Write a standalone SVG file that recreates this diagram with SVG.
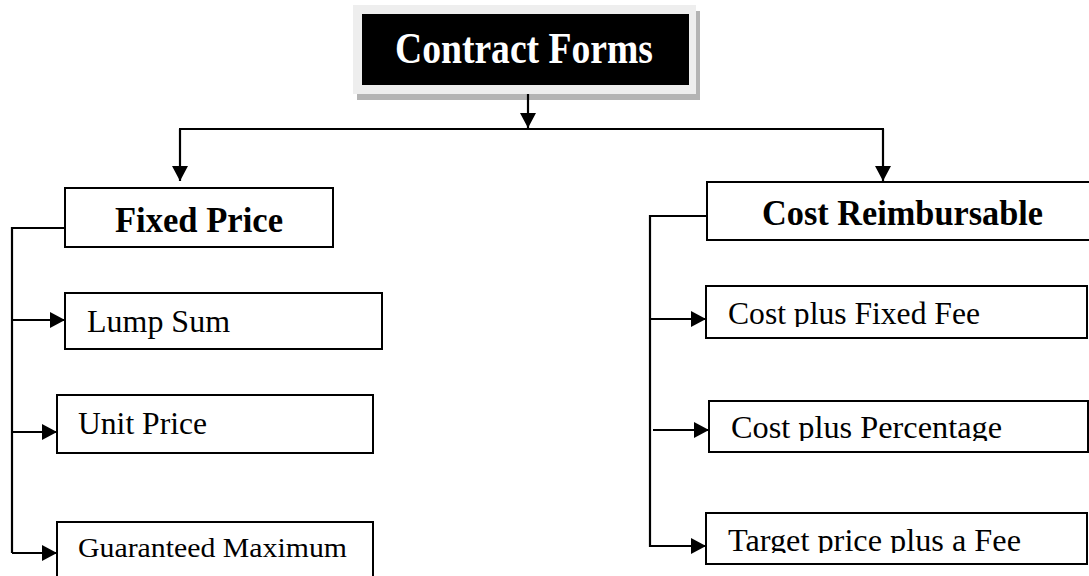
<svg xmlns="http://www.w3.org/2000/svg" width="1089" height="576" viewBox="0 0 1089 576">
  <style>
    .box { fill: #ffffff; stroke: #000000; stroke-width: 2; }
    .link { fill: none; stroke: #000000; stroke-width: 2.2; }
    .head { font-family: "Liberation Serif", "Times New Roman", serif; font-weight: bold; fill: #000000; }
    .item { font-family: "Liberation Serif", "Times New Roman", serif; fill: #000000; }
  </style>
  <defs>
    <marker id="arrow" viewBox="0 0 15 16" refX="15" refY="8" markerWidth="15" markerHeight="16" markerUnits="userSpaceOnUse" orient="auto">
      <path d="M0,0 L15,8 L0,16 z" fill="#000000"/>
    </marker>
    <clipPath id="clipFixedFee"><rect x="700" y="280" width="389" height="47"/></clipPath>
    <clipPath id="clipPercentage"><rect x="700" y="395" width="389" height="46"/></clipPath>
    <clipPath id="clipTarget"><rect x="700" y="505" width="389" height="48"/></clipPath>
  </defs>

  <rect width="1089" height="576" fill="#ffffff"/>

  <!-- root node with framed, shadowed black panel -->
  <g id="contract-forms">
    <rect x="357" y="11" width="343" height="89" fill="#b4b4b4"/>
    <rect x="353" y="5" width="343" height="89" fill="#eeeeee"/>
    <rect x="362" y="14" width="327" height="71" fill="#000000"/>
    <text class="head" x="395" y="63" font-size="45" style="fill:#ffffff" textLength="258" lengthAdjust="spacingAndGlyphs">Contract Forms</text>
  </g>

  <!-- connectors -->
  <g id="connectors">
    <path class="link" d="M528,94 V128" marker-end="url(#arrow)"/>
    <path class="link" d="M179,129 H884"/>
    <path class="link" d="M180,129 V181" marker-end="url(#arrow)"/>
    <path class="link" d="M883,129 V181" marker-end="url(#arrow)"/>

    <path class="link" d="M65,228 H12 V553"/>
    <path class="link" d="M12,320 H65" marker-end="url(#arrow)"/>
    <path class="link" d="M12,432 H57" marker-end="url(#arrow)"/>
    <path class="link" d="M12,553 H57" marker-end="url(#arrow)"/>

    <path class="link" d="M707,216 H650 V547"/>
    <path class="link" d="M650,319 H706" marker-end="url(#arrow)"/>
    <path class="link" d="M653,430 H709" marker-end="url(#arrow)"/>
    <path class="link" d="M650,546 H706" marker-end="url(#arrow)"/>
  </g>

  <!-- fixed price branch -->
  <g id="fixed-price">
    <rect class="box" x="65" y="188" width="268" height="59"/>
    <text class="head" x="115" y="232" font-size="35" textLength="168" lengthAdjust="spacingAndGlyphs">Fixed Price</text>
  </g>
  <g id="lump-sum">
    <rect class="box" x="65" y="293" width="317" height="56"/>
    <text class="item" x="87" y="332" font-size="32" textLength="143" lengthAdjust="spacingAndGlyphs">Lump Sum</text>
  </g>
  <g id="unit-price">
    <rect class="box" x="57" y="395" width="316" height="58"/>
    <text class="item" x="78" y="434" font-size="31" textLength="129" lengthAdjust="spacingAndGlyphs">Unit Price</text>
  </g>
  <g id="guaranteed-maximum">
    <rect class="box" x="57" y="522" width="316" height="70"/>
    <text class="item" x="78" y="557" font-size="28" textLength="269" lengthAdjust="spacingAndGlyphs">Guaranteed Maximum</text>
  </g>

  <!-- cost reimbursable branch -->
  <g id="cost-reimbursable">
    <rect class="box" x="707" y="182" width="400" height="58"/>
    <text class="head" x="762" y="225" font-size="35" textLength="281" lengthAdjust="spacingAndGlyphs">Cost Reimbursable</text>
  </g>
  <g id="cost-plus-fixed-fee">
    <rect class="box" x="706" y="286" width="381" height="52"/>
    <text class="item" x="728" y="324" font-size="31" textLength="252" lengthAdjust="spacingAndGlyphs" clip-path="url(#clipFixedFee)">Cost plus Fixed Fee</text>
  </g>
  <g id="cost-plus-percentage">
    <rect class="box" x="709" y="401" width="379" height="51"/>
    <text class="item" x="731" y="438" font-size="31" textLength="271" lengthAdjust="spacingAndGlyphs" clip-path="url(#clipPercentage)">Cost plus Percentage</text>
  </g>
  <g id="target-price-plus-fee">
    <rect class="box" x="706" y="513" width="381" height="51"/>
    <text class="item" x="728" y="551" font-size="31" textLength="293" lengthAdjust="spacingAndGlyphs" clip-path="url(#clipTarget)">Target price plus a Fee</text>
  </g>
</svg>
